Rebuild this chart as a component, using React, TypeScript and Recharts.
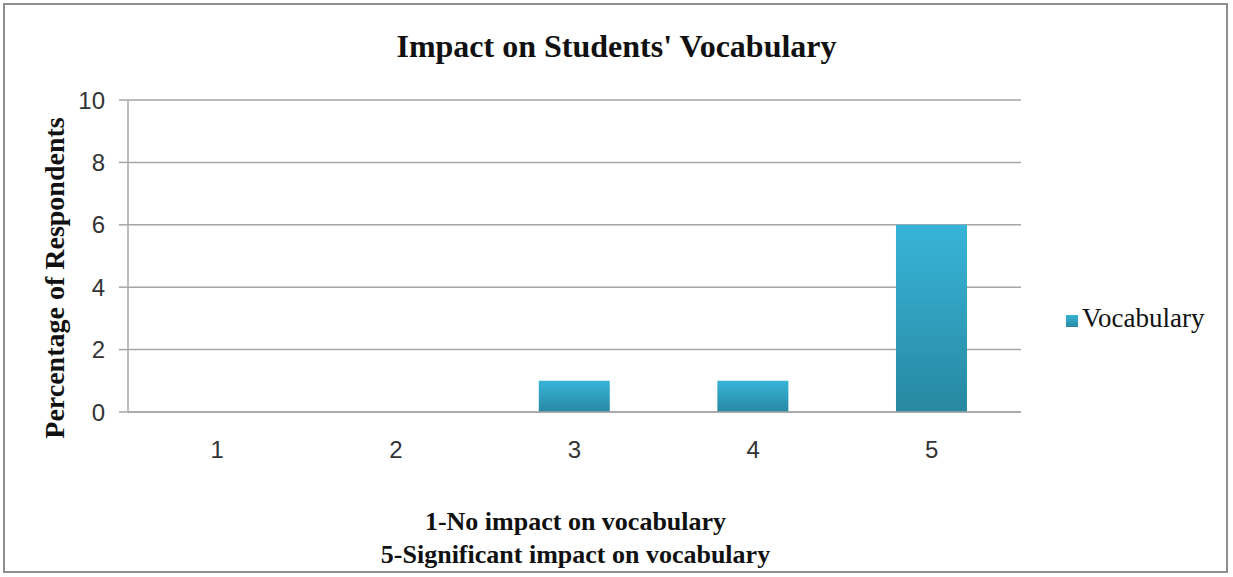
import React from 'react';
import { BarChart, Bar, XAxis, YAxis, CartesianGrid, Legend } from 'recharts';

const categories = ['1', '2', '3', '4', '5'];
const vocabulary = [0, 0, 1, 1, 6];
const yTicks = [0, 2, 4, 6, 8, 10];
const boundaryTicks = [0, 1, 2, 3, 4, 5];

const data = categories.map((c, i) => ({ rating: c, pos: i + 0.5, Vocabulary: vocabulary[i] }));

const serif = 'Liberation Serif';
const sans = 'Liberation Sans';
const GRID = '#a6a6a6';

export default function App() {
  return (
    <div style={{ position: 'absolute', left: 0, top: 0, width: 1233, height: 577, background: '#fff' }}>
      <div style={{ position: 'absolute', left: 3, top: 3, width: 1225, height: 570, border: '2px solid #8e8e8e', boxSizing: 'border-box' }} />
      <div style={{ position: 'absolute', left: 0, top: 28, width: 1233, textAlign: 'center', fontFamily: serif, fontWeight: 'bold', fontSize: 32, color: '#111' }}>
        Impact on Students' Vocabulary
      </div>
      <div style={{ position: 'absolute', left: 55, top: 278, width: 0, height: 0 }}>
        <div style={{ position: 'absolute', transform: 'translate(-50%, -50%) rotate(-90deg)', whiteSpace: 'nowrap', fontFamily: serif, fontWeight: 'bold', fontSize: 28, color: '#111' }}>
          Percentage of Respondents
        </div>
      </div>
      <div style={{ position: 'absolute', left: 129, top: 505, width: 893, textAlign: 'center', fontFamily: serif, fontWeight: 'bold', fontSize: 26, lineHeight: '33px', color: '#111' }}>
        <div>1-No impact on vocabulary</div>
        <div>5-Significant impact on vocabulary</div>
      </div>
      <div style={{ position: 'absolute', left: 0, top: 0 }}>
        <BarChart width={1233} height={577} data={data} margin={{ top: 100, right: 212, bottom: 125, left: 68 }} barCategoryGap="30%">
          <defs>
            <linearGradient id="vocabGrad" x1="0" y1="0" x2="0" y2="1">
              <stop offset="0%" stopColor="#37b4d8" />
              <stop offset="100%" stopColor="#2888a2" />
            </linearGradient>
          </defs>
          <CartesianGrid vertical={false} stroke={GRID} strokeWidth={1.5} />
          <XAxis xAxisId="edges" type="number" dataKey="pos" domain={[0, 5]} ticks={boundaryTicks} height={0} tick={false} tickSize={10} axisLine={false} tickLine={{ stroke: GRID, strokeWidth: 1.5 }} />
          <XAxis dataKey="rating" height={40} tickLine={false} tickSize={0} tickMargin={29} axisLine={{ stroke: GRID, strokeWidth: 1.5 }} tick={{ fontFamily: sans, fontSize: 24, fill: '#333' }} />
          <YAxis domain={[0, 10]} ticks={yTicks} width={60} tickSize={9} tickMargin={14} axisLine={{ stroke: GRID, strokeWidth: 1.5 }} tickLine={{ stroke: GRID, strokeWidth: 1.5 }} tick={{ fontFamily: sans, fontSize: 24, fill: '#333' }} />
          <Legend align="center" verticalAlign="middle" layout="vertical" iconType="square" iconSize={12}
            wrapperStyle={{ left: 1066, top: 303, width: 165, fontFamily: serif, fontSize: 27 }}
            formatter={(v) => <span style={{ color: '#111' }}>{v}</span>} />
          <Bar dataKey="Vocabulary" fill="url(#vocabGrad)" isAnimationActive={false} />
        </BarChart>
      </div>
    </div>
  );
}
